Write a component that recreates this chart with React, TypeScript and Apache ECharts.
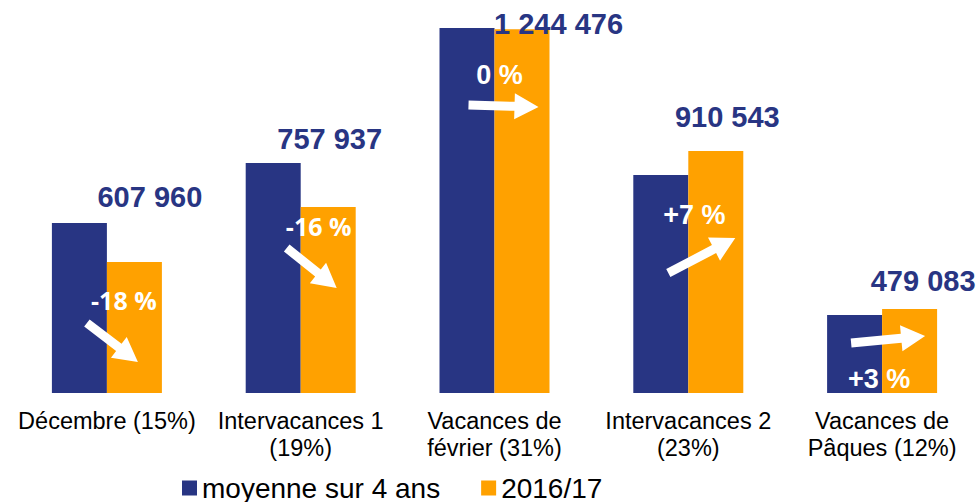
import React, { useEffect, useRef } from "react";
import * as echarts from "echarts";

const categories = [
  "Décembre (15%)",
  "Intervacances 1\n(19%)",
  "Vacances de\nfévrier (31%)",
  "Intervacances 2\n(23%)",
  "Vacances de\nPâques (12%)",
];
const moyenne = [580000, 784000, 1244476, 743000, 266000];
const saison = [447000, 634000, 1240000, 825000, 286000];
const valueLabels = ["607 960", "757 937", "1 244 476", "910 543", "479 083"];
const changeLabels = ["-18 %", "-16 %", "0 %", "+7 %", "+3 %"];

const NAVY = "#283583";
const ORANGE = "#FFA100";
const FONT = "'Liberation Sans', Arial, sans-serif";

// annotation layout (pixel offsets from each group's base point)
const layout = [
  { v: [43, -196], p: [17, -93], pf: "'Open Sans', sans-serif", ps: 25, a: [[-20, -70], [31, -31]] },
  { v: [29, -254], p: [18, -167], pf: "'Open Sans', sans-serif", ps: 25, a: [[-14, -145], [36, -105]] },
  { v: [64, -369], p: [5, -318], pf: FONT, ps: 27, a: [[-26, -288], [44, -286]] },
  { v: [39, -276], p: [6, -178], pf: FONT, ps: 27, a: [[-20, -120], [47, -155]] },
  { v: [41, -112], p: [-3, -14], pf: FONT, ps: 27, a: [[-31, -50], [43, -57]] },
];

function arrowPoints(tx: number, ty: number, hx: number, hy: number) {
  const dx = hx - tx;
  const dy = hy - ty;
  const len = Math.sqrt(dx * dx + dy * dy);
  const ux = dx / len;
  const uy = dy / len;
  const nx = -uy;
  const ny = ux;
  const w = 9 / 2;
  const hw = 26 / 2;
  const hl = 24;
  const kx = hx - ux * hl;
  const ky = hy - uy * hl;
  return [
    [tx + nx * w, ty + ny * w],
    [kx + nx * w, ky + ny * w],
    [kx + nx * hw, ky + ny * hw],
    [hx, hy],
    [kx - nx * hw, ky - ny * hw],
    [kx - nx * w, ky - ny * w],
    [tx - nx * w, ty - ny * w],
  ];
}

export default function App() {
  const ref = useRef<HTMLDivElement>(null);
  useEffect(() => {
    if (!ref.current) return;
    const chart = echarts.init(ref.current, undefined, { renderer: "svg" });
    chart.setOption({
      animation: false,
      grid: { left: 10, width: 969, top: 28, bottom: 109 },
      legend: {
        data: ["moyenne sur 4 ans", "2016/17"],
        left: 177,
        top: 469,
        icon: "rect",
        itemWidth: 15,
        itemHeight: 15,
        itemGap: 41,
        textStyle: { fontSize: 28, color: "#000", fontFamily: FONT },
      },
      xAxis: {
        type: "category",
        data: categories,
        axisLine: { show: false },
        axisTick: { show: false },
        axisLabel: {
          interval: 0,
          margin: 14,
          fontSize: 23.5,
          lineHeight: 27,
          color: "#000",
          fontFamily: FONT,
        },
      },
      yAxis: {
        type: "value",
        min: 0,
        max: 1244476,
        show: false,
        splitLine: { show: false },
      },
      series: [
        {
          name: "moyenne sur 4 ans",
          type: "bar",
          data: moyenne,
          barWidth: 55,
          barGap: "0%",
          itemStyle: { color: NAVY },
        },
        {
          name: "2016/17",
          type: "bar",
          data: saison,
          barWidth: 55,
          itemStyle: { color: ORANGE },
        },
        {
          name: "annotations",
          type: "custom",
          silent: true,
          z: 10,
          data: categories.map((_, i) => [i, 0]),
          renderItem: (params: any, api: any) => {
            const i = api.value(0);
            const base = api.coord([i, 0]);
            const cx = base[0];
            const by = base[1];
            const L = layout[i];
            return {
              type: "group",
              children: [
                {
                  type: "text",
                  x: cx + L.v[0],
                  y: by + L.v[1],
                  style: {
                    text: valueLabels[i],
                    fill: NAVY,
                    fontSize: 29,
                    fontWeight: "bold",
                    fontFamily: FONT,
                    align: "center",
                    verticalAlign: "middle",
                  },
                },
                {
                  type: "text",
                  x: cx + L.p[0],
                  y: by + L.p[1],
                  style: {
                    text: changeLabels[i],
                    fill: "#fff",
                    fontSize: L.ps,
                    fontWeight: "bold",
                    fontFamily: L.pf,
                    align: "center",
                    verticalAlign: "middle",
                  },
                },
                {
                  type: "polygon",
                  shape: {
                    points: arrowPoints(
                      cx + L.a[0][0],
                      by + L.a[0][1],
                      cx + L.a[1][0],
                      by + L.a[1][1]
                    ),
                  },
                  style: { fill: "#fff" },
                },
              ],
            };
          },
        },
      ],
    });
    return () => chart.dispose();
  }, []);
  return (
    <div
      style={{ position: "absolute", left: 0, top: 0, width: 976, height: 502, overflow: "hidden", background: "#fff" }}
    >
      <div ref={ref} style={{ width: 980, height: 502 }} />
    </div>
  );
}
